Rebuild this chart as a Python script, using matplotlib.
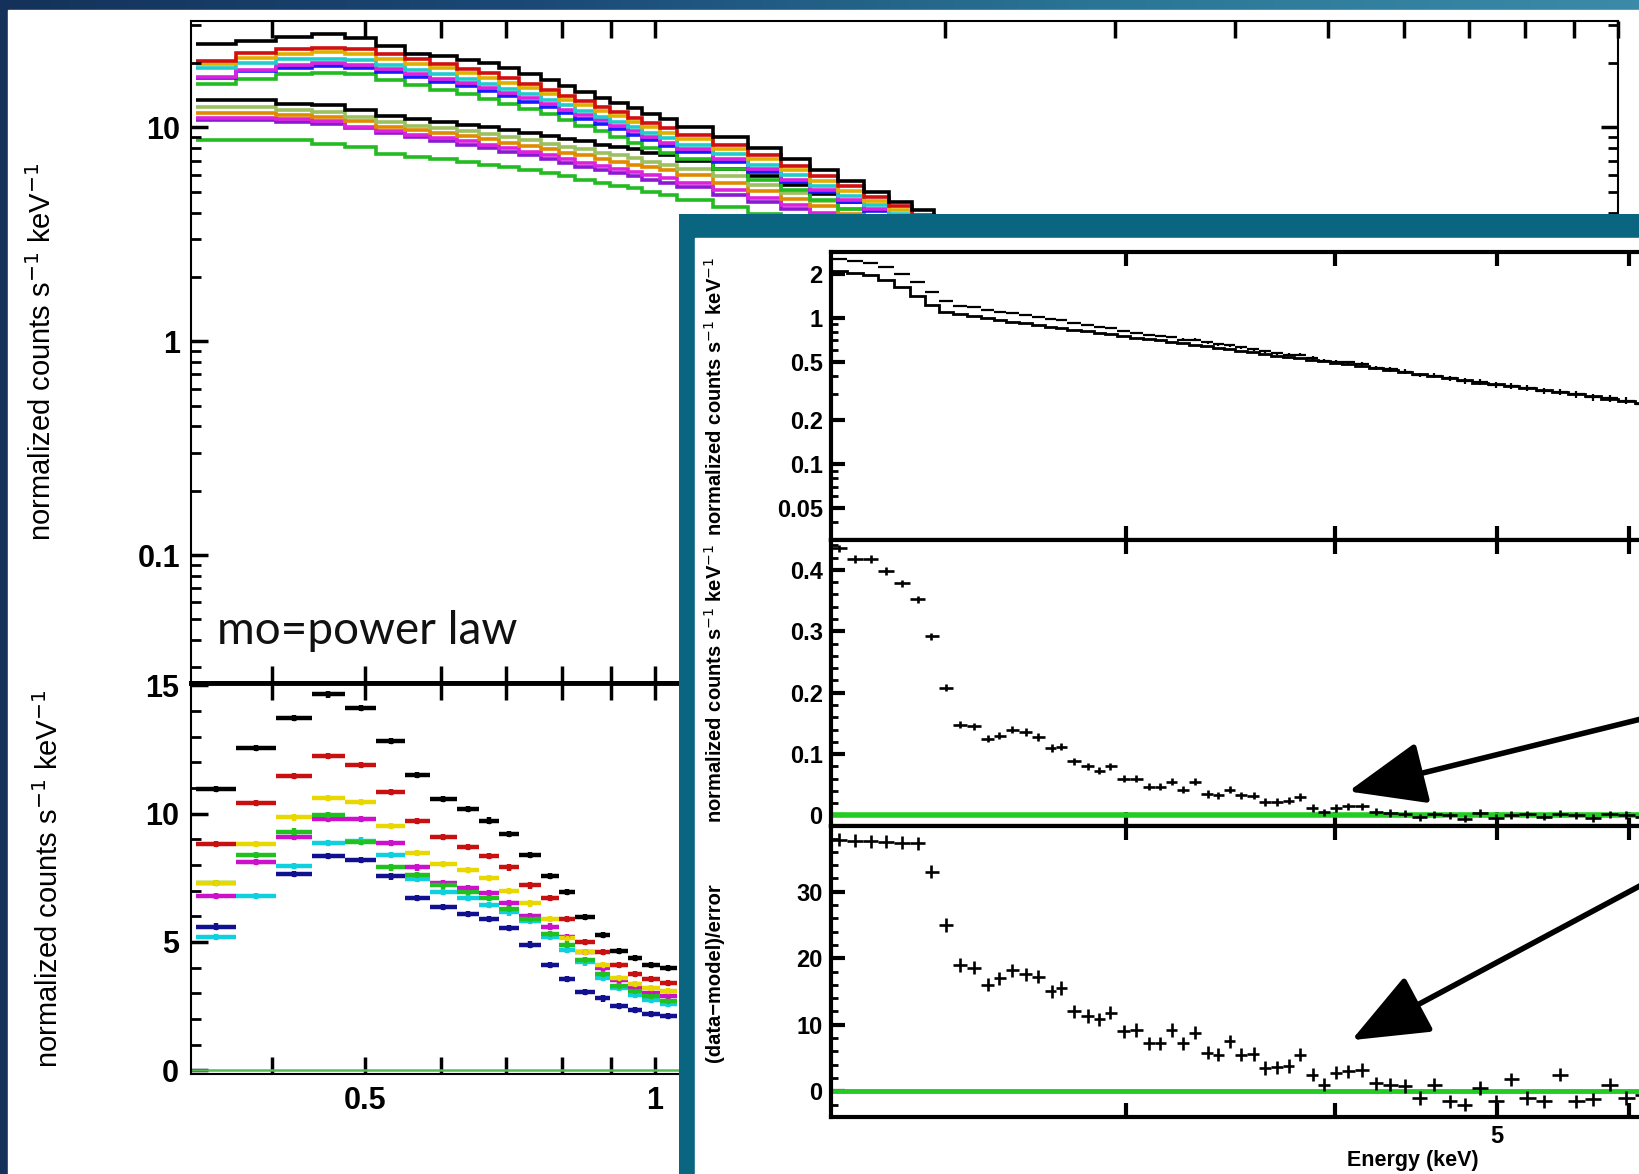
import numpy as np
import matplotlib
matplotlib.use("Agg")
import matplotlib.pyplot as plt
from matplotlib.patches import Rectangle, FancyArrowPatch
from matplotlib.colors import LinearSegmentedColormap
from matplotlib.ticker import FixedLocator, FixedFormatter, NullFormatter, LogLocator, MultipleLocator

# ---------------- data: background chart (0.33-10 keV) ----------------
bin_edges = [0.3335, 0.367, 0.404, 0.440, 0.4765, 0.5135, 0.5503, 0.5834, 0.6223, 0.656,
             0.6885, 0.722, 0.762, 0.795, 0.8255, 0.866, 0.899, 0.938, 0.969, 1.011,
             1.055, 1.15, 1.25, 1.35, 1.45, 1.55, 1.65, 1.75, 1.85, 1.95, 2.05, 2.15, 2.3]

# upper group of step spectra (normalized counts s^-1 keV^-1)
up_black   = [24.5, 25.5, 26.5, 27.4, 26.3, 24.0, 22.0, 21.5, 20.7, 20.0, 19.0, 17.8, 16.6, 15.6, 14.7, 13.8,
              13.0, 12.3, 11.6, 10.9, 10.0, 9.0, 8.0, 7.1, 6.3, 5.6, 5.0, 4.5, 4.1, 3.7, 3.35, 3.0]
up_red     = [20.4, 22.4, 23.2, 23.6, 23.2, 22.0, 20.8, 19.8, 18.8, 17.9, 17.0, 16.0, 15.0, 14.1, 13.3, 12.5,
              11.8, 11.1, 10.5, 9.9, 9.2, 8.3, 7.4, 6.6, 5.9, 5.3, 4.75, 4.3, 3.9, 3.5, 3.2, 2.9]
up_orange  = [19.7, 21.2, 22.0, 22.5, 22.0, 21.0, 19.9, 18.9, 18.0, 17.1, 16.2, 15.3, 14.4, 13.5, 12.7, 12.0,
              11.3, 10.6, 10.0, 9.4, 8.8, 7.9, 7.1, 6.3, 5.6, 5.05, 4.55, 4.1, 3.7, 3.35, 3.05, 2.75]
up_cyan    = [19.0, 20.0, 21.0, 21.0, 20.6, 19.6, 18.6, 17.7, 16.8, 16.0, 15.2, 14.3, 13.5, 12.7, 11.9, 11.2,
              10.6, 10.0, 9.4, 8.9, 8.3, 7.5, 6.7, 6.0, 5.35, 4.8, 4.35, 3.95, 3.55, 3.2, 2.9, 2.6]
up_magenta = [17.3, 18.6, 19.6, 20.0, 19.6, 18.7, 17.8, 16.9, 16.1, 15.3, 14.5, 13.7, 12.9, 12.1, 11.4, 10.8,
              10.2, 9.6, 9.0, 8.5, 7.9, 7.1, 6.4, 5.7, 5.1, 4.6, 4.15, 3.75, 3.4, 3.05, 2.75, 2.5]
up_blue    = [17.0, 18.3, 19.0, 19.4, 19.0, 18.1, 17.2, 16.4, 15.6, 14.8, 14.0, 13.2, 12.4, 11.7, 11.0, 10.4,
              9.8, 9.2, 8.7, 8.2, 7.7, 6.9, 6.2, 5.55, 5.0, 4.5, 4.05, 3.65, 3.3, 3.0, 2.7, 2.45]
up_green   = [15.9, 16.9, 17.7, 18.0, 17.7, 16.6, 15.8, 15.0, 14.3, 13.6, 12.9, 12.2, 11.5, 10.8, 10.2, 9.6,
              9.0, 8.5, 8.0, 7.6, 7.1, 6.4, 5.7, 5.1, 4.6, 4.15, 3.75, 3.4, 3.05, 2.75, 2.5, 2.25]
# lower group
lo_black   = [13.5, 13.5, 12.9, 12.7, 12.1, 11.3, 10.9, 10.6, 10.3, 10.0, 9.7, 9.4, 9.1, 8.8, 8.6, 8.3,
              8.1, 7.9, 7.6, 7.4, 7.0, 6.4, 5.9, 5.4, 4.9, 4.5, 4.1, 3.8, 3.45, 3.15, 2.9, 2.6]
lo_olive   = [12.4, 12.4, 12.1, 11.8, 11.2, 10.6, 10.2, 9.9, 9.6, 9.3, 9.0, 8.7, 8.4, 8.1, 7.9, 7.6,
              7.4, 7.2, 6.9, 6.7, 6.4, 5.9, 5.4, 4.95, 4.55, 4.15, 3.8, 3.5, 3.2, 2.95, 2.7, 2.45]
lo_orange  = [11.7, 11.7, 11.4, 11.2, 10.7, 10.1, 9.7, 9.4, 9.1, 8.8, 8.5, 8.2, 7.9, 7.6, 7.4, 7.1,
              6.9, 6.7, 6.5, 6.3, 6.0, 5.5, 5.05, 4.65, 4.3, 3.95, 3.6, 3.3, 3.05, 2.8, 2.55, 2.35]
lo_magenta = [11.1, 11.1, 10.9, 10.7, 10.1, 9.6, 9.2, 8.9, 8.6, 8.3, 8.0, 7.7, 7.4, 7.1, 6.85, 6.6,
              6.4, 6.2, 6.0, 5.8, 5.5, 5.1, 4.7, 4.35, 4.0, 3.7, 3.4, 3.1, 2.85, 2.6, 2.4, 2.2]
lo_purple  = [10.8, 10.8, 10.6, 10.4, 9.9, 9.4, 9.0, 8.6, 8.3, 8.0, 7.7, 7.4, 7.1, 6.8, 6.55, 6.3,
              6.1, 5.9, 5.7, 5.5, 5.25, 4.85, 4.5, 4.15, 3.85, 3.55, 3.25, 3.0, 2.75, 2.5, 2.3, 2.1]
lo_green   = [8.7, 8.7, 8.7, 8.4, 8.06, 7.55, 7.3, 7.1, 6.9, 6.7, 6.5, 6.3, 6.1, 5.9, 5.7, 5.5,
              5.35, 5.2, 5.0, 4.85, 4.6, 4.25, 3.95, 3.65, 3.4, 3.15, 2.9, 2.7, 2.5, 2.3, 2.1, 1.95]

# lower-left panel: linear residual counts, first 20 bins of bin_edges
res_black   = [10.96, 12.55, 13.73, 14.64, 14.12, 12.83, 11.5, 10.57, 10.18, 9.73, 9.21, 8.4, 7.57, 6.95, 5.96, 5.27, 4.65, 4.37, 4.1, 3.98]
res_red     = [8.8, 10.4, 11.45, 12.25, 11.9, 10.85, 9.7, 9.1, 8.7, 8.35, 7.9, 7.2, 6.7, 5.9, 5.0, 4.6, 4.1, 3.75, 3.55, 3.4]
res_yellow  = [7.3, 8.8, 9.85, 10.6, 10.45, 9.5, 8.45, 8.05, 7.8, 7.5, 7.0, 6.5, 5.9, 5.15, 4.6, 4.1, 3.6, 3.35, 3.2, 3.1]
res_green   = [7.3, 8.4, 9.3, 9.95, 8.9, 7.9, 7.6, 7.2, 6.95, 6.7, 6.3, 5.9, 5.3, 4.9, 4.3, 3.75, 3.3, 3.1, 2.9, 2.7]
res_magenta = [6.8, 8.1, 9.1, 9.8, 9.8, 8.85, 7.9, 7.3, 7.1, 6.9, 6.5, 6.0, 5.6, 5.2, 4.6, 4.0, 3.5, 3.2, 3.0, 2.9]
res_cyan    = [5.2, 6.8, 7.95, 8.85, 8.95, 8.4, 7.45, 6.95, 6.7, 6.45, 6.15, 5.8, 5.2, 4.7, 4.2, 3.6, 3.2, 2.95, 2.75, 2.6]
res_blue    = [5.6, np.nan, 7.65, 8.35, 8.2, 7.55, 6.7, 6.35, 6.1, 5.9, 5.55, 4.9, 4.1, 3.55, 3.05, 2.8, 2.5, 2.35, 2.2, 2.1]

back_xticks = [0.4, 0.5, 0.6, 0.7, 0.8, 0.9, 1, 2, 3, 4, 5, 6, 7, 8, 9, 10]
back_xlabels = ["", "0.5", "", "", "", "", "1", "", "", "", "", "", "", "", "", ""]

# ---------------- data: inset (2-10 keV) ----------------
inset_E = [2.023, 2.067, 2.112, 2.158, 2.205, 2.254, 2.296, 2.343, 2.387, 2.436,
           2.482, 2.521, 2.565, 2.614, 2.659, 2.710, 2.745, 2.793, 2.850, 2.891,
           2.937, 2.992, 3.045, 3.098, 3.147, 3.197, 3.244, 3.300, 3.358, 3.406,
           3.461, 3.516, 3.577, 3.634, 3.697, 3.756, 3.811, 3.883, 3.939, 4.008,
           4.076, 4.153, 4.231, 4.318, 4.406, 4.496, 4.587, 4.688, 4.782, 4.886,
           4.993, 5.101, 5.213, 5.333, 5.450, 5.578, 5.706, 5.839, 5.975, 6.11,
           6.25, 6.40]
inset_model = [2.10, 2.02, 1.95, 1.82, 1.62, 1.40, 1.22, 1.10, 1.06, 1.03,
               1.00, 0.97, 0.94, 0.915, 0.89, 0.865, 0.85, 0.83, 0.81, 0.79,
               0.77, 0.75, 0.73, 0.715, 0.70, 0.685, 0.67, 0.655, 0.64, 0.625,
               0.61, 0.595, 0.58, 0.565, 0.55, 0.54, 0.53, 0.515, 0.505, 0.49,
               0.48, 0.465, 0.45, 0.44, 0.425, 0.41, 0.40, 0.385, 0.375, 0.36,
               0.35, 0.34, 0.33, 0.32, 0.31, 0.30, 0.29, 0.28, 0.27, 0.26,
               0.25, 0.24]
inset_data = [2.54, 2.44, 2.37, 2.22, 2.00, 1.75, 1.51, 1.31, 1.21, 1.18,
              1.13, 1.10, 1.08, 1.05, 1.02, 0.98, 0.96, 0.92, 0.89, 0.86,
              0.85, 0.81, 0.79, 0.76, 0.75, 0.74, 0.71, 0.71, 0.68, 0.66,
              0.65, 0.63, 0.61, 0.59, 0.57, 0.56, 0.56, 0.53, 0.51, 0.50,
              0.495, 0.48, 0.456, 0.444, 0.428, 0.407, 0.402, 0.385, 0.37, 0.364,
              0.346, 0.341, 0.332, 0.318, 0.313, 0.30, 0.286, 0.282, 0.271, 0.258,
              0.252, 0.24]
inset_resid = [0.435, 0.418, 0.418, 0.398, 0.378, 0.352, 0.292, 0.208, 0.148, 0.145,
               0.125, 0.130, 0.140, 0.136, 0.128, 0.110, 0.112, 0.088, 0.080, 0.073,
               0.080, 0.060, 0.060, 0.047, 0.047, 0.055, 0.042, 0.055, 0.035, 0.033,
               0.042, 0.033, 0.032, 0.022, 0.022, 0.024, 0.030, 0.012, 0.005, 0.012,
               0.015, 0.015, 0.006, 0.004, 0.003, -0.003, 0.002, 0.000, -0.005, 0.004,
               -0.004, 0.001, 0.002, -0.002, 0.003, 0.000, -0.004, 0.002, 0.001, -0.002,
               0.002, 0.000]
inset_sigma = [37.8, 37.7, 37.6, 37.5, 37.4, 37.3, 33.0, 25.0, 19.0, 18.6,
               16.0, 17.0, 18.2, 17.6, 17.2, 15.0, 15.5, 12.0, 11.3, 10.8,
               11.8, 9.0, 9.2, 7.2, 7.2, 9.2, 7.2, 8.8, 5.8, 5.5,
               7.5, 5.5, 5.6, 3.5, 3.6, 3.8, 5.5, 2.5, 1.0, 2.8,
               3.0, 3.2, 1.2, 1.0, 0.8, -1.0, 1.0, -1.5, -2.0, 0.5,
               -1.5, 1.8, -1.0, -1.5, 2.5, -1.5, -1.2, 1.0, -1.0, -0.5,
               0.8, -1.0]
inset_xticks = [3, 4, 5, 6, 7, 8, 9]
inset_xlabels = ["", "", "5", "", "", "", ""]

# ---------------- layout helpers (reference px -> figure fraction) ----------------
RW, RH = 1568.0, 1123.0
def fx(x): return x / RW
def fy(y): return 1 - y / RH

TICKFONT = ["Liberation Sans", "DejaVu Sans"]

fig = plt.figure(figsize=(16.39, 11.74), dpi=100)

# slide background: gradient frame + white panel
bg = fig.add_axes([0, 0, 1, 1])
bg.set_axis_off()
cmap = LinearSegmentedColormap.from_list("frame", ["#143259", "#1b4a77", "#2a7595", "#3a8aa8"])
bg.imshow(np.linspace(0, 1, 256).reshape(1, -1), aspect="auto", cmap=cmap, extent=[0, 1, 0, 1])
bg.set_xlim(0, 1); bg.set_ylim(0, 1)
bg.add_patch(Rectangle((fx(8), 0), 1, fy(10), color="white", zorder=2))

# ---------- background chart: top (log) ----------
ax_l, ax_r = fx(183), fx(1548)
ax1 = fig.add_axes([ax_l, fy(653), ax_r - ax_l, fy(20) - fy(653)])
ax2 = fig.add_axes([ax_l, fy(1027), ax_r - ax_l, fy(653) - fy(1027)])

up_series = [(up_green, "#22bb22"), (up_blue, "#1a1aff"), (up_magenta, "#dd22dd"), (up_cyan, "#22cccc"),
             (up_orange, "#e0b000"), (up_red, "#d01010"), (up_black, "black")]
lo_series = [(lo_green, "#22bb22"), (lo_purple, "#8a1ad0"), (lo_magenta, "#dd22dd"), (lo_orange, "#e08a00"),
             (lo_olive, "#9cc060"), (lo_black, "black")]
for vals, col in lo_series + up_series:
    ax1.stairs(vals, bin_edges, baseline=None, color=col, lw=2.6)

ax1.set_xscale("log"); ax1.set_yscale("log")
ax1.set_xlim(0.33, 10); ax1.set_ylim(0.0253, 31.5)
ax1.xaxis.set_major_locator(FixedLocator(back_xticks))
ax1.xaxis.set_major_formatter(NullFormatter())
ax1.xaxis.set_minor_locator(FixedLocator([]))
ax1.yaxis.set_major_locator(FixedLocator([0.1, 1, 10]))
ax1.yaxis.set_major_formatter(FixedFormatter(["0.1", "1", "10"]))
ax1.yaxis.set_minor_locator(LogLocator(base=10, subs=np.arange(2, 10)))
ax1.yaxis.set_minor_formatter(NullFormatter())
ax1.tick_params(axis="both", which="major", direction="in", length=12, width=2.5,
                top=True, bottom=True, left=True, right=True, labelsize=22, pad=8)
ax1.tick_params(axis="both", which="minor", direction="in", length=7, width=2,
                top=True, bottom=True, left=True, right=True)
for s in ["left", "top", "right"]:
    ax1.spines[s].set_linewidth(1.5)
ax1.spines["bottom"].set_linewidth(3.5)
ax1.set_ylabel("normalized counts s$^{-1}$ keV$^{-1}$", fontsize=21, labelpad=58,
               family=TICKFONT)

# ---------- background chart: bottom (linear) ----------
bc = np.sqrt(np.array(bin_edges[:20]) * np.array(bin_edges[1:21]))
xl = bc - np.array(bin_edges[:20]); xr = np.array(bin_edges[1:21]) - bc
res_series = [(res_blue, "#101090"), (res_cyan, "#10d0e0"), (res_magenta, "#cc10cc"), (res_green, "#20c020"),
              (res_yellow, "#e8d800"), (res_red, "#c81010"), (res_black, "black")]
for vals, col in res_series:
    ax2.errorbar(bc, vals, xerr=[xl, xr], yerr=0.12, fmt="o", ms=3, color=col,
                 ecolor=col, elinewidth=3.2, capsize=0)
ax2.axhline(0, color="#55bb55", lw=1.8)
ax2.set_xscale("log")
ax2.set_xlim(0.33, 10); ax2.set_ylim(-0.13, 15.1)
ax2.xaxis.set_major_locator(FixedLocator(back_xticks))
ax2.xaxis.set_major_formatter(FixedFormatter(back_xlabels))
ax2.xaxis.set_minor_locator(FixedLocator([]))
ax2.yaxis.set_major_locator(FixedLocator([0, 5, 10, 15]))
ax2.yaxis.set_minor_locator(MultipleLocator(1))
ax2.tick_params(axis="both", which="major", direction="in", length=12, width=2.5,
                top=True, bottom=True, left=True, right=True, labelsize=22, pad=9)
ax2.tick_params(axis="both", which="minor", direction="in", length=7, width=2,
                left=True, right=True)
ax2.spines["top"].set_linewidth(3.5)
for s in ["left", "bottom", "right"]:
    ax2.spines[s].set_linewidth(1.5)
ax2.set_ylabel("normalized counts s$^{-1}$ keV$^{-1}$", fontsize=21, labelpad=58,
               family=TICKFONT)
for a in (ax1, ax2):
    for lab in a.get_xticklabels() + a.get_yticklabels():
        lab.set_family(TICKFONT); lab.set_fontweight("bold")

fig.text(fx(208), fy(604), "mo=power law", fontsize=33, color="#111111",
         family=["Lato", "DejaVu Sans"], fontweight="normal", ha="left", va="center")

# ---------------- inset frame ----------------
fr = fig.add_axes([fx(650), 0, 1 - fx(650), fy(205)])
fr.set_axis_off()
fr.set_xlim(0, 1); fr.set_ylim(0, 1)
fr.add_patch(Rectangle((0, 0), 1, 1, color="#0a6680", transform=fr.transAxes))
wx0 = (fx(665) - fx(650)) / (1 - fx(650))
wy1 = fy(228) / fy(205)
fr.add_patch(Rectangle((wx0, 0), 1, wy1, color="white", transform=fr.transAxes))

# ---------------- inset axes ----------------
iL = fx(795); iR = fx(1914)
a1 = fig.add_axes([iL, fy(517), iR - iL, fy(241) - fy(517)])
a2 = fig.add_axes([iL, fy(790), iR - iL, fy(517) - fy(790)])
a3 = fig.add_axes([iL, fy(1068), iR - iL, fy(790) - fy(1068)])

E = np.array(inset_E)
mids = np.sqrt(E[:-1] * E[1:])
edges = np.concatenate([[E[0] ** 2 / mids[0]], mids, [E[-1] ** 2 / mids[-1]]])
exl = E - edges[:-1]; exr = edges[1:] - E

a1.stairs(inset_model, edges, baseline=None, color="black", lw=2.0)
a1.errorbar(E, inset_data, xerr=[exl, exr], yerr=0.015, fmt="none", ecolor="black",
            elinewidth=1.6, capsize=0)
a1.set_yscale("log"); a1.set_ylim(0.03, 2.82)
a1.yaxis.set_major_locator(FixedLocator([0.05, 0.1, 0.2, 0.5, 1, 2]))
a1.yaxis.set_major_formatter(FixedFormatter(["0.05", "0.1", "0.2", "0.5", "1", "2"]))
a1.yaxis.set_minor_locator(LogLocator(base=10, subs=np.arange(2, 10)))
a1.yaxis.set_minor_formatter(NullFormatter())

a2.errorbar(E, inset_resid, xerr=[exl, exr], yerr=0.006, fmt="none", ecolor="black",
            elinewidth=1.9, capsize=0, zorder=3)
a2.axhline(0, color="#22cc22", lw=4, zorder=2)
a2.set_ylim(-0.017, 0.448)
a2.yaxis.set_major_locator(FixedLocator([0, 0.1, 0.2, 0.3, 0.4]))
a2.yaxis.set_major_formatter(FixedFormatter(["0", "0.1", "0.2", "0.3", "0.4"]))
a2.yaxis.set_minor_locator(MultipleLocator(0.02))

a3.errorbar(E, inset_sigma, xerr=[exl, exr], yerr=1.0, fmt="none", ecolor="black",
            elinewidth=1.9, capsize=0, zorder=3)
a3.axhline(0, color="#22cc22", lw=3.5, zorder=2)
a3.set_ylim(-3.8, 39.9)
a3.yaxis.set_major_locator(FixedLocator([0, 10, 20, 30]))
a3.yaxis.set_major_formatter(FixedFormatter(["0", "10", "20", "30"]))
a3.yaxis.set_minor_locator(MultipleLocator(2))

for a in (a1, a2, a3):
    a.set_xscale("log")
    a.set_xlim(2, 10)
    a.xaxis.set_major_locator(FixedLocator(inset_xticks))
    a.xaxis.set_minor_locator(FixedLocator([]))
    if a is a3:
        a.xaxis.set_major_formatter(FixedFormatter(inset_xlabels))
    else:
        a.xaxis.set_major_formatter(NullFormatter())
    a.tick_params(axis="both", which="major", direction="in", length=10, width=3,
                  top=True, bottom=True, left=True, right=True, labelsize=17, pad=6)
    a.tick_params(axis="y", which="minor", direction="in", length=5, width=2, left=True, right=True)
    for s in a.spines.values():
        s.set_linewidth(3)
    for lab in a.get_xticklabels() + a.get_yticklabels():
        lab.set_family(TICKFONT); lab.set_fontweight("bold")

fig.text(fx(684), fy(379), "normalized counts s$^{-1}$ keV$^{-1}$", rotation=90, fontsize=14.5,
         fontweight="bold", family=TICKFONT, ha="center", va="center")
fig.text(fx(684), fy(654), "normalized counts s$^{-1}$ keV$^{-1}$", rotation=90, fontsize=14.5,
         fontweight="bold", family=TICKFONT, ha="center", va="center")
fig.text(fx(684), fy(930), "(data\u2212model)/error", rotation=90, fontsize=14.5,
         fontweight="bold", family=TICKFONT, ha="center", va="center")
fig.text(fx(1352), fy(1110), "Energy (keV)", fontsize=15.5, fontweight="bold",
         family=TICKFONT, ha="center", va="center")

# arrows
for (x0, y0), (x1, y1) in [((1650, 668), (1290, 757)), ((1650, 804), (1293, 995))]:
    arr = FancyArrowPatch((fx(x0), fy(y0)), (fx(x1), fy(y1)), transform=fig.transFigure,
                          arrowstyle="-|>,head_length=1.6,head_width=0.65", mutation_scale=30,
                          lw=4, color="black", shrinkA=0, shrinkB=0)
    fig.add_artist(arr)

fig.savefig("out.png", dpi=100)
